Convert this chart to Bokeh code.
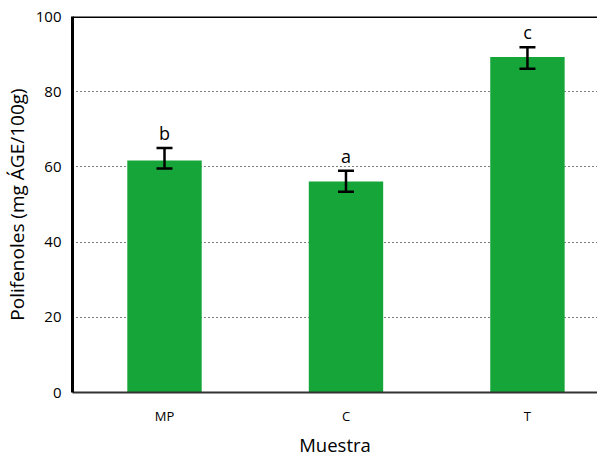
from bokeh.plotting import figure
from bokeh.models import ColumnDataSource, Whisker, TeeHead, Span, FixedTicker
from bokeh.core.properties import value
from bokeh.embed import file_html
from bokeh.resources import INLINE

categories = ["MP", "C", "T"]
polifenoles = [61.7, 56.1, 89.2]
err_low = [59.6, 53.4, 86.1]
err_high = [65.0, 59.0, 91.8]
letters = ["b", "a", "c"]

FONT = "Open Sans"
xs = [i + 1 for i in range(len(categories))]

src = ColumnDataSource(dict(x=xs, y=polifenoles, lo=err_low, hi=err_high, lab=letters))

p = figure(output_backend="svg", toolbar_location=None,
           frame_width=525, frame_height=376,
           x_range=(0.493, 3.386), y_range=(0, 100),
           min_border_left=62, min_border_top=16, min_border_bottom=50, min_border_right=0)
p.outline_line_color = None
p.background_fill_color = "white"

p.vbar(x="x", top="y", width=0.41, source=src, color="#15a538", line_color=None)

w = Whisker(base="x", lower="lo", upper="hi", source=src, line_color="black", line_width=2.5,
            level="overlay",
            upper_head=TeeHead(size=16, line_color="black", line_width=2.5),
            lower_head=TeeHead(size=16, line_color="black", line_width=2.5))
p.add_layout(w)

p.text(x="x", y="hi", text="lab", source=src, text_align="center", text_baseline="bottom",
       y_offset=-3, text_font=value(FONT), text_font_size="18px", text_color="black")

p.add_layout(Span(location=100, dimension="width", line_color="black", line_width=3))

# grid
p.xgrid.grid_line_color = None
p.ygrid.grid_line_color = "black"
p.ygrid.grid_line_dash = "1 3"
p.ygrid.grid_line_width = 1.2
p.ygrid.ticker = FixedTicker(ticks=[20, 40, 60, 80])

# y axis
p.yaxis.ticker = FixedTicker(ticks=[0, 20, 40, 60, 80, 100])
p.yaxis.axis_line_width = 3
p.yaxis.axis_line_color = "black"
p.yaxis.major_tick_line_color = None
p.yaxis.minor_tick_line_color = None
p.yaxis.major_label_text_font = FONT
p.yaxis.major_label_text_font_size = "15px"
p.yaxis.major_label_text_color = "black"
p.yaxis.major_label_standoff = 5
p.yaxis.axis_label = "Polifenoles (mg ÁGE/100g)"
p.yaxis.axis_label_text_font = FONT
p.yaxis.axis_label_text_font_size = "19px"
p.yaxis.axis_label_text_font_style = "normal"
p.yaxis.axis_label_text_color = "black"
p.yaxis.axis_label_standoff = 3

# x axis
p.xaxis.ticker = FixedTicker(ticks=xs)
p.xaxis.major_label_overrides = {x: c for x, c in zip(xs, categories)}
p.xaxis.axis_line_width = 2
p.xaxis.axis_line_color = "#333333"
p.xaxis.major_tick_line_color = None
p.xaxis.minor_tick_line_color = None
p.xaxis.major_label_text_font = FONT
p.xaxis.major_label_text_font_size = "13px"
p.xaxis.major_label_text_color = "black"
p.xaxis.major_label_standoff = 8
p.xaxis.axis_label = "Muestra"
p.xaxis.axis_label_text_font = FONT
p.xaxis.axis_label_text_font_size = "18.5px"
p.xaxis.axis_label_text_font_style = "normal"
p.xaxis.axis_label_text_color = "black"
p.xaxis.axis_label_standoff = 4

open("out.html", "w").write(file_html(p, INLINE))
